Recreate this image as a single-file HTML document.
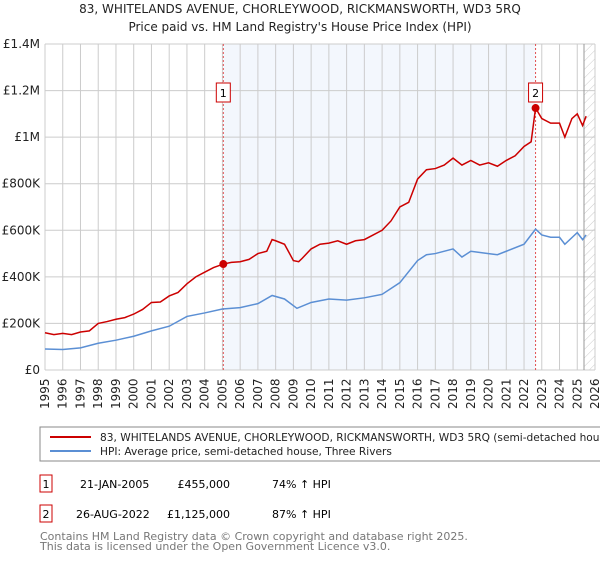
<!DOCTYPE html>
<html><head><meta charset="utf-8"><style>
body{margin:0;background:#fff;font-family:"Liberation Sans","DejaVu Sans",sans-serif;}
svg text{font-family:"DejaVu Sans","Liberation Sans",sans-serif;}
</style></head><body>
<svg id="c" width="600" height="560" xmlns="http://www.w3.org/2000/svg">
<defs><pattern id="hatch" width="6" height="6" patternUnits="userSpaceOnUse" patternTransform="rotate(45)"><line x1="0" y1="0" x2="0" y2="6" stroke="#ccc" stroke-width="1"/></pattern></defs>
<text x="300" y="13" text-anchor="middle" font-size="12" fill="#222">83, WHITELANDS AVENUE, CHORLEYWOOD, RICKMANSWORTH, WD3 5RQ</text>
<text x="300" y="31" text-anchor="middle" font-size="12" fill="#222">Price paid vs. HM Land Registry's House Price Index (HPI)</text>
<g id="plot"></g>
<rect x="40" y="427" width="570" height="34" fill="#fff" stroke="#888"/>
<line x1="50" y1="437" x2="91" y2="437" stroke="#cc0000" stroke-width="2"/>
<text x="100" y="441" font-size="10.6" fill="#222">83, WHITELANDS AVENUE, CHORLEYWOOD, RICKMANSWORTH, WD3 5RQ (semi-detached house)</text>
<line x1="50" y1="451" x2="91" y2="451" stroke="#5b8fd4" stroke-width="2"/>
<text x="100" y="455" font-size="10.6" fill="#222">HPI: Average price, semi-detached house, Three Rivers</text>
<g>
<rect x="40" y="475" width="12" height="17" fill="#fff" stroke="#c00"/><text x="46" y="488" text-anchor="middle" font-size="11">1</text>
<text x="80" y="488" font-size="11">21-JAN-2005</text><text x="230" y="488" text-anchor="end" font-size="11">£455,000</text><text x="272" y="488" font-size="11">74% ↑ HPI</text></g>
<g>
<rect x="40" y="505" width="12" height="17" fill="#fff" stroke="#c00"/><text x="46" y="518" text-anchor="middle" font-size="11">2</text>
<text x="76" y="518" font-size="11">26-AUG-2022</text><text x="230" y="518" text-anchor="end" font-size="11">£1,125,000</text><text x="272" y="518" font-size="11">87% ↑ HPI</text></g>
<text x="40" y="540" font-size="11" fill="#777">Contains HM Land Registry data © Crown copyright and database right 2025.</text>
<text x="40" y="550" font-size="11" fill="#777">This data is licensed under the Open Government Licence v3.0.</text>
</svg>
<script>
const yTicks=[0,200000,400000,600000,800000,1000000,1200000,1400000];
const yTickLabels=["£0","£200K","£400K","£600K","£800K","£1M","£1.2M","£1.4M"];
const years=[1995,1996,1997,1998,1999,2000,2001,2002,2003,2004,2005,2006,2007,2008,2009,2010,2011,2012,2013,2014,2015,2016,2017,2018,2019,2020,2021,2022,2023,2024,2025,2026];
const propT=[1995,1995.5,1996,1996.5,1997,1997.5,1998,1998.5,1999,1999.5,2000,2000.5,2001,2001.5,2002,2002.5,2003,2003.5,2004,2004.5,2005.05,2005.5,2006,2006.5,2007,2007.5,2007.8,2008,2008.5,2009,2009.3,2009.5,2010,2010.5,2011,2011.5,2012,2012.5,2013,2013.5,2014,2014.5,2015,2015.5,2016,2016.5,2017,2017.5,2018,2018.5,2019,2019.5,2020,2020.5,2021,2021.5,2022,2022.4,2022.65,2023,2023.5,2024,2024.3,2024.7,2025,2025.3,2025.5];
const propV=[160,152,157,152,163,168,200,208,218,225,240,260,290,292,318,333,370,400,420,440,455,462,465,475,500,510,560,555,540,470,465,480,520,540,545,555,540,555,560,580,600,640,700,720,820,860,865,880,910,880,900,880,890,875,900,920,960,980,1125,1080,1060,1060,1000,1080,1100,1050,1090];
const hpiT=[1995,1996,1997,1998,1999,2000,2001,2002,2003,2004,2005,2006,2007,2007.8,2008.5,2009.2,2010,2011,2012,2013,2014,2015,2016,2016.5,2017,2018,2018.5,2019,2020,2020.5,2021,2022,2022.65,2023,2023.5,2024,2024.3,2025,2025.3,2025.5];
const hpiV=[90,88,95,115,128,145,168,188,230,245,262,268,285,320,305,265,290,305,300,310,325,375,470,495,500,520,485,510,500,495,510,540,605,580,570,570,540,590,560,580];
const sales=[[2005.05,455],[2022.65,1125]];
const X=t=>45+(t-1995)*(550/31), Y=v=>370-v/1400000*326;
const NS="http://www.w3.org/2000/svg", g=document.getElementById('plot');
function el(n,a){const e=document.createElementNS(NS,n);for(const k in a)e.setAttribute(k,a[k]);g.appendChild(e);return e;}
let r=el('rect',{x:X(2005.05),y:44,width:X(2022.65)-X(2005.05),height:326,fill:'#eef3fc',opacity:0.7});


r=el('rect',{x:584,y:44,width:11,height:326,fill:'url(#hatch)'});


years.forEach(y=>{const l=el('line',{x1:X(y),x2:X(y),y1:44,y2:370,stroke:'#ccc'});


const t=el('text',{transform:`translate(${X(y)+4},409) rotate(-90)`,'font-size':12,fill:'#222'});t.textContent=y;

});
yTicks.forEach((v,i)=>{const l=el('line',{x1:45,x2:595,y1:Y(v),y2:Y(v),stroke:'#ccc'});


const t=el('text',{x:40,y:Y(v)+4,'text-anchor':'end','font-size':12,fill:'#222'});t.textContent=yTickLabels[i];

});
el('line',{x1:584,x2:584,y1:44,y2:370,stroke:'#999'});
sales.forEach((s,i)=>{const l=el('line',{x1:X(s[0]),x2:X(s[0]),y1:44,y2:370,stroke:'#e05050','stroke-dasharray':'2,2'});


const b=el('rect',{x:X(s[0])-7,y:83,width:14,height:19,fill:'#fff',stroke:'#c00'});


const t=el('text',{x:X(s[0]),y:97,'text-anchor':'middle','font-size':11});t.textContent=i+1;

});
let p=el('polyline',{points:hpiT.map((t,i)=>X(t)+','+Y(hpiV[i]*1000)).join(' '),fill:'none',stroke:'#5b8fd4','stroke-width':1.5});


p=el('polyline',{points:propT.map((t,i)=>X(t)+','+Y(propV[i]*1000)).join(' '),fill:'none',stroke:'#cc0000','stroke-width':1.5});


sales.forEach(s=>{const c=el('circle',{cx:X(s[0]),cy:Y(s[1]*1000),r:4,fill:'#cc0000'});

});
</script>
</body></html>
